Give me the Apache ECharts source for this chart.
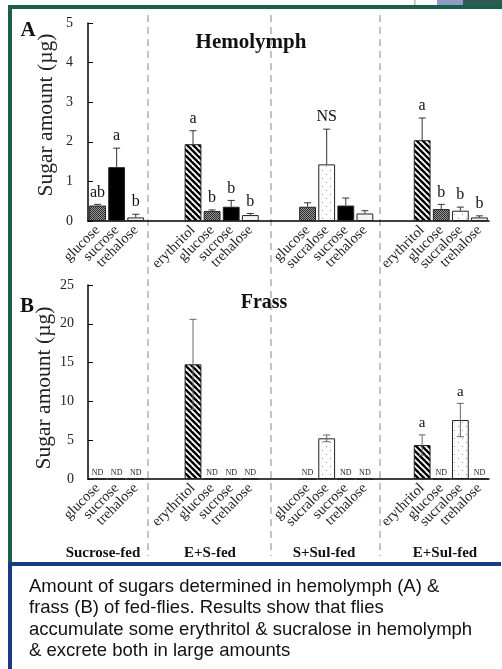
<!DOCTYPE html>
<html><head><meta charset="utf-8">
<script src="https://cdn.jsdelivr.net/npm/echarts@6/dist/echarts.min.js"></script>
<style>html,body{margin:0;padding:0;background:#fff;} #c{width:502px;height:669px;}</style>
</head><body><div id="c"></div>
<script>
// ---- data ----
const slotLabels = ['glucose','sucrose','trehalose','','','erythritol','glucose','sucrose','trehalose','','','glucose','sucralose','sucrose','trehalose','','','erythritol','glucose','sucralose','trehalose'];
const hemoMean = [0.39,1.36,0.09,null,null,1.94,0.25,0.36,0.15,null,null,0.36,1.43,0.39,0.19,null,null,2.04,0.30,0.26,0.09];
const hemoErr  = [0.03,0.48,0.08,null,null,0.34,0.03,0.16,0.04,null,null,0.10,0.89,0.19,0.07,null,null,0.56,0.12,0.09,0.04];
const hemoSig  = ['ab','a','b','','','a','b','b','b','','','','NS','','','','','a','b','b','b'];
const frassMean = [0,0,0,null,null,14.78,0,0,0,null,null,0,5.24,0,0,null,null,4.38,0,7.6,0];
const frassErr  = [0,0,0,null,null,5.8,0,0,0,null,null,0,0.43,0,0,null,null,1.3,0,2.15,0];
const frassSig  = ['','','','','','','','','','','','','','','','','','a','','a',''];
const groupNames = ['Sucrose-fed','E+S-fed','S+Sul-fed','E+Sul-fed'];
const hemoTicks = [0,1,2,3,4,5];
const frassTicks = [0,5,10,15,20,25];
const yName = 'Sugar amount (µg)';
const captionLines = ['Amount of sugars determined in hemolymph (A) &','frass (B) of fed-flies. Results show that flies','accumulate some erythritol & sucralose in hemolymph','& excrete both in large amounts'];

// ---- patterns ----
function mk(w,h,draw){const c=document.createElement('canvas');c.width=w;c.height=h;const g=c.getContext('2d');draw(g,w,h);return {image:c,repeat:'repeat'};}
const pCheck = mk(2,2,(g)=>{g.fillStyle='#9a9a9a';g.fillRect(0,0,2,2);g.fillStyle='#2a2a2a';g.fillRect(0,0,1,1);g.fillRect(1,1,1,1);});
const pStripe = mk(6,6,(g,w,h)=>{g.fillStyle='#fff';g.fillRect(0,0,w,h);g.strokeStyle='#000';g.lineWidth=2.4;for(let k=-1;k<=1;k++){g.beginPath();g.moveTo(k*6-1,-1);g.lineTo(k*6+7,7);g.stroke();}});
const pDots = mk(8,8,(g)=>{g.fillStyle='#fff';g.fillRect(0,0,8,8);g.fillStyle='#9a9a9a';g.fillRect(2,2,1,1);g.fillRect(6,6,1,1);});
const pDash = mk(8,7,(g)=>{g.fillStyle='#f4f4f4';g.fillRect(0,0,8,7);g.fillStyle='#8a8a8a';g.fillRect(1,3,4,1);});
const fills = {glucose:pCheck, sucrose:'#000', trehalose:pDash, erythritol:pStripe, sucralose:pDots};

const serif = '"Liberation Serif", "Times New Roman", serif';

function barData(arr){return arr.map((v,i)=> v==null ? '-' : {value:v, itemStyle:{color:fills[slotLabels[i]]}});}
function errData(m,e){return m.map((v,i)=> [i, v==null?NaN:v, e[i]==null?NaN:e[i]]);}
function errRender(sig, both, font, col){
  return function(params, api){
    const idx=api.value(0), v=api.value(1), e=api.value(2);
    if (isNaN(v) || v===0) return null;
    const top=api.coord([idx, v+e]);
    const low=api.coord([idx, both? v-e : v]);
    const ch=[];
    const st={stroke:col, lineWidth:1};
    if (e>0){
      ch.push({type:'line', shape:{x1:top[0],y1:top[1],x2:low[0],y2:low[1]}, style:st});
      ch.push({type:'line', shape:{x1:top[0]-3.5,y1:top[1],x2:top[0]+3.5,y2:top[1]}, style:st});
      if (both) ch.push({type:'line', shape:{x1:low[0]-3.5,y1:low[1],x2:low[0]+3.5,y2:low[1]}, style:st});
    }
    const s=sig[params.dataIndex];
    if (s) ch.push({type:'text', x:top[0], y:top[1]-4, style:{text:s, textAlign:'center', textVerticalAlign:'bottom', font:font, fill:'#111'}});
    return {type:'group', children:ch};
  };
}

function xAx(gi){return {type:'category', gridIndex:gi, data:slotLabels.map((_,i)=>'s'+i), boundaryGap:true,
  axisLine:{lineStyle:{color:'#000',width:1.5}}, axisTick:{show:false},
  axisLabel:{interval:0, rotate:45, margin:7, fontFamily:serif, fontSize:14.5, color:'#222', formatter:(v,i)=>slotLabels[i]}};}
function yAx(gi,ticks,margin){return {type:'value', gridIndex:gi, min:ticks[0], max:ticks[ticks.length-1], interval:ticks[1]-ticks[0],
  axisLine:{show:true, lineStyle:{color:'#000', width:1.5}}, axisTick:{show:true, inside:true, length:5, lineStyle:{color:'#000'}},
  splitLine:{show:false}, axisLabel:{margin:margin, fontFamily:serif, fontSize:14, color:'#222'}};}

const sepX=[148,271,380];
const graphics=[];
// slide frame
graphics.push({type:'rect', shape:{x:8,y:5,width:494,height:4}, style:{fill:'#1b5e4c'}});
graphics.push({type:'rect', shape:{x:8,y:5,width:4,height:558}, style:{fill:'#1b5e4c'}});
graphics.push({type:'rect', shape:{x:8,y:562,width:493,height:4}, style:{fill:'#1a3b82'}});
graphics.push({type:'rect', shape:{x:8,y:562,width:4,height:107}, style:{fill:'#1a3b82'}});
graphics.push({type:'rect', shape:{x:437,y:0,width:26,height:5}, style:{fill:'#8e9ec0'}});
graphics.push({type:'rect', shape:{x:463,y:0,width:39,height:5}, style:{fill:'#2e5c55'}});
graphics.push({type:'rect', shape:{x:414,y:0,width:1.5,height:5}, style:{fill:'#b8b8b8'}});
sepX.forEach(x=>graphics.push({type:'line', shape:{x1:x,y1:15,x2:x,y2:556}, style:{stroke:'#b0b0b0', lineWidth:1.5, lineDash:[7,5]}}));
const T=(text,x,y,font,align)=>({type:'text', x, y, style:{text, font, textAlign:align||'center', textVerticalAlign:'middle', fill:'#111'}});
graphics.push(T('A',28,31,'bold 21px '+serif));
graphics.push(T('B',27,307,'bold 21px '+serif));
graphics.push(T('Hemolymph',251,43,'bold 21px '+serif));
graphics.push(T('Frass',264,303,'bold 20px '+serif));
graphics.push(Object.assign(T(yName,46,115,'21.5px '+serif),{rotation:Math.PI/2, style:{text:yName, font:'21.5px '+serif, textAlign:'center', textVerticalAlign:'middle', fill:'#222'}}));
graphics.push(Object.assign(T(yName,44,388,'21.5px '+serif),{rotation:Math.PI/2, style:{text:yName, font:'21.5px '+serif, textAlign:'center', textVerticalAlign:'middle', fill:'#222'}}));
const gx=[103,210,324,445];
groupNames.forEach((g,i)=>graphics.push(T(g,gx[i],553,'bold 15px '+serif)));
graphics.push({type:'text', x:29, y:576, style:{text:captionLines.join('\n'), font:'18.5px "Liberation Sans", Arial, sans-serif', lineHeight:21.5, textAlign:'left', textVerticalAlign:'top', fill:'#111'}});

const chart=echarts.init(document.getElementById('c'),null,{renderer:'canvas'});
chart.setOption({
  animation:false,
  backgroundColor:'#fff',
  grid:[{left:88, top:23, width:401, height:198},{left:88, top:285, width:401, height:194}],
  xAxis:[xAx(0), xAx(1)],
  yAxis:[yAx(0,hemoTicks,15), yAx(1,frassTicks,14)],
  series:[
    {type:'bar', xAxisIndex:0, yAxisIndex:0, barWidth:'88%', data:barData(hemoMean), itemStyle:{borderColor:'#222', borderWidth:1}, silent:true},
    {type:'custom', xAxisIndex:0, yAxisIndex:0, data:errData(hemoMean,hemoErr), renderItem:errRender(hemoSig,false,'16px '+serif,'#333'), z:5, silent:true},
    {type:'bar', xAxisIndex:1, yAxisIndex:1, barWidth:'88%', data:barData(frassMean), itemStyle:{borderColor:'#222', borderWidth:1}, silent:true,
      label:{show:true, position:'top', distance:2, fontFamily:serif, fontSize:8, color:'#222', formatter:p=> p.value===0?'ND':''}},
    {type:'custom', xAxisIndex:1, yAxisIndex:1, data:errData(frassMean,frassErr), renderItem:errRender(frassSig,true,'15px '+serif,'#666'), z:5, silent:true}
  ],
  graphic:graphics
});
</script></body></html>
